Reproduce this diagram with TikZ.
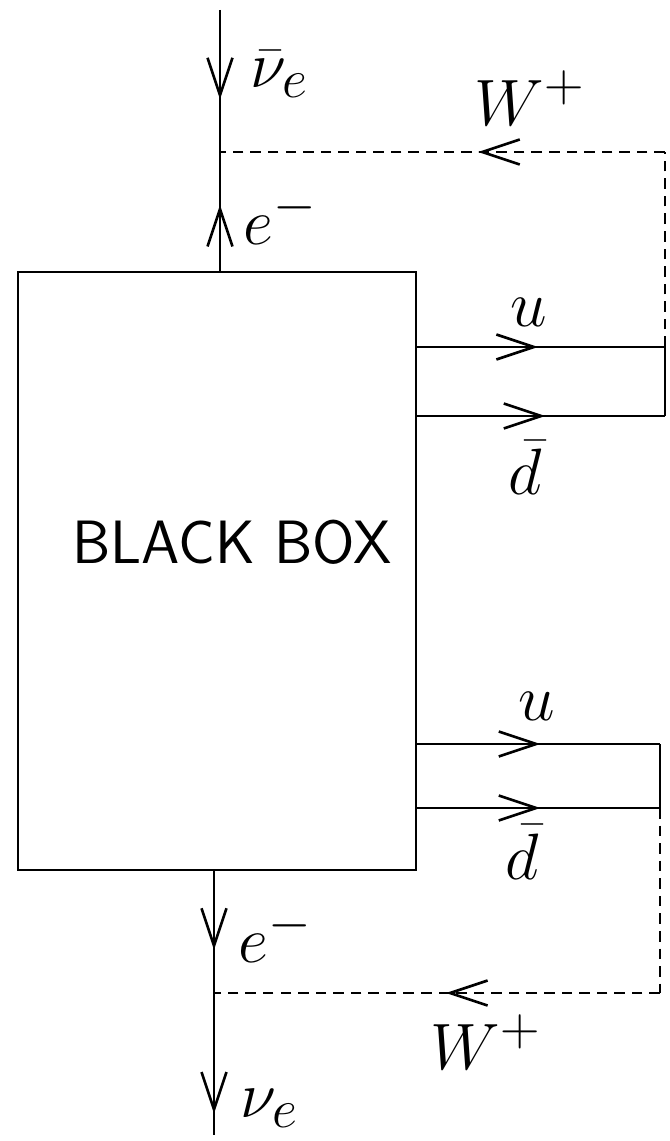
\documentclass[tikz,border=0pt]{standalone}
\usepackage{tikz}
\usetikzlibrary{arrows.meta,decorations.markings}
\tikzset{
  pline/.style={line width=1.6pt},
  wline/.style={line width=1.1pt, dash pattern=on 6pt off 4pt},
  midarr/.style={postaction={decorate},
    decoration={markings, mark=at position #1 with
      {\arrow[solid]{Straight Barb[length=7.5mm,width=5mm,line width=1.5pt]}}}},
  lbl/.style={font=\Huge, scale=1.5, inner sep=0pt, anchor=west},
  boxlbl/.style={font=\sffamily\Huge, scale=1.4, inner sep=0pt},
}

\begin{document}
\begin{tikzpicture}[x=0.02cm, y=-0.02cm]
\useasboundingbox (0,0) rectangle (669,1141);

% ================= black box =================
\node[draw, pline, minimum width=7.96cm, minimum height=11.96cm, inner sep=0pt] (box) at (217,571) {};
\node[boxlbl] (boxtxt) at (232,542) {BLACK BOX};

% ================= points =================
\coordinate (nutop) at (220,10);
\coordinate (wtop) at (220,152);
\coordinate (etop) at (220,272);
\coordinate (wc1) at (665,152);
\coordinate (u1s) at (416,347);
\coordinate (u1e) at (665,347);
\coordinate (d1s) at (416,416);
\coordinate (d1e) at (665,416);
\coordinate (u2s) at (416,744);
\coordinate (u2e) at (660,744);
\coordinate (d2s) at (416,808);
\coordinate (d2e) at (660,808);
\coordinate (wc2) at (660,993);
\coordinate (ebot) at (214,870);
\coordinate (wbot) at (214,993);
\coordinate (nubot) at (214,1135);

% ================= lepton line =================
\draw[pline, midarr=0.63] (nutop) -- (wtop);
\draw[pline, midarr=0.56] (etop) -- (wtop);
\draw[pline, midarr=0.65] (ebot) -- (wbot);
\draw[pline, midarr=0.85] (wbot) -- (nubot);

% ================= quark loops =================
\draw[pline, midarr=0.49] (u1s) -- (u1e);
\draw[pline] (u1e) -- (d1e);
\draw[pline, midarr=0.52] (d1s) -- (d1e);
\draw[pline, midarr=0.51] (u2s) -- (u2e);
\draw[pline] (u2e) -- (d2e);
\draw[pline, midarr=0.51] (d2s) -- (d2e);

% ================= W lines =================
\draw[wline] (u1e) -- (wc1);
\draw[wline, midarr=0.42] (wc1) -- (wtop);
\draw[wline] (d2e) -- (wc2);
\draw[wline, midarr=0.48] (wc2) -- (wbot);

% ================= labels =================
\node[lbl] (nubar) at (250,74) {$\bar{\nu}_e$};
\node[lbl] (wup) at (474,98) {$W^+$};
\node[lbl] (eup) at (243,217) {$e^-$};
\node[lbl] (uup) at (510,312) {$u$};
\node[lbl] (dup) at (508,468) {$\bar{d}$};
\node[lbl] (udn) at (518,706) {$u$};
\node[lbl] (ddn) at (505,852) {$\bar{d}$};
\node[lbl] (edn) at (238,935) {$e^-$};
\node[lbl] (wdn) at (430,1042) {$W^+$};
\node[lbl] (nu) at (240,1108) {$\nu_e$};
\end{tikzpicture}
\end{document}
